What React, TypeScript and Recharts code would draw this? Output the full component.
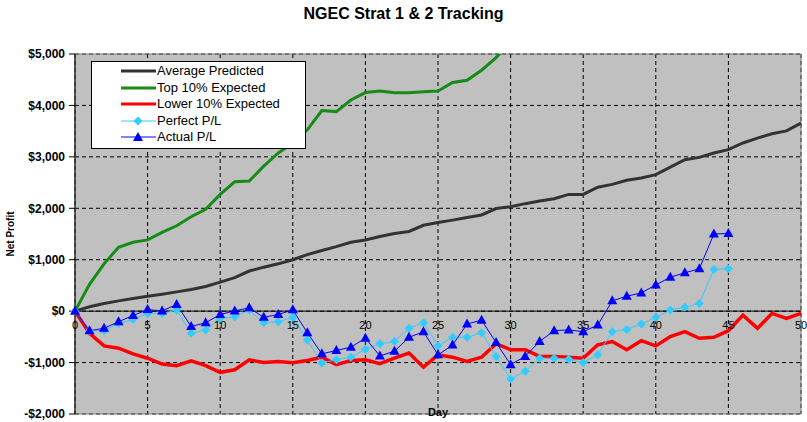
import {
  LineChart, Line, XAxis, YAxis, CartesianGrid,
  ReferenceLine, ReferenceArea, Legend, Label,
} from 'recharts'

// Day index, then one value per day for each series (missing days = no point)
const DAYS = [
  0, 1, 2, 3, 4, 5, 6, 7, 8, 9, 10, 11, 12, 13, 14, 15, 16, 17, 18, 19, 20,
  21, 22, 23, 24, 25, 26, 27, 28, 29, 30, 31, 32, 33, 34, 35, 36, 37, 38, 39, 40,
  41, 42, 43, 44, 45, 46, 47, 48, 49, 50,
]

const AVERAGE_PREDICTED = [
  0, 85, 150, 200, 245, 290, 330, 375, 420, 480, 565, 650, 780, 855, 920, 1000,
  1100, 1180, 1255, 1340, 1385, 1450, 1510, 1550, 1670, 1725, 1770, 1820, 1870, 1995, 2030,
  2090, 2140, 2185, 2270, 2270, 2410, 2465, 2545, 2590, 2655, 2800, 2945, 2990, 3075, 3140,
  3270, 3365, 3450, 3505, 3655,
]

const TOP_10_EXPECTED = [
  0, 520, 920, 1240, 1340, 1385, 1530, 1660, 1835, 1980, 2270, 2515, 2530, 2820, 3075, 3270,
  3525, 3900, 3880, 4105, 4250, 4280, 4245, 4245, 4265, 4280, 4445, 4490, 4685, 4930, 5230,
]

const LOWER_10_EXPECTED = [
  0, -430, -675, -720, -830, -915, -1030, -1060, -965, -1060, -1190, -1140, -945, -1000, -980, -1005,
  -960, -895, -1040, -960, -945, -1020, -915, -815, -1090, -850, -895, -980, -895, -635, -750,
  -750, -880, -880, -895, -915, -655, -590, -750, -575, -675, -495, -400, -527, -510, -380,
  -77, -335, -45, -140, -45,
]

const PERFECT_PL = [
  0, -380, -380, -240, -160, -45, -45, 20, -430, -365, -140, -110, 20, -225, -205, -120,
  -560, -1010, -945, -895, -740, -635, -590, -335, -225, -675, -510, -510, -420, -880, -1320,
  -1170, -915, -915, -935, -1000, -850, -400, -355, -250, -120, 20, 75, 150, 810, 825,
]

const ACTUAL_PL = [
  0, -380, -335, -205, -85, 30, 5, 130, -300, -225, -65, 5, 65, -120, -65, 25,
  -420, -830, -765, -700, -527, -870, -780, -510, -400, -850, -660, -250, -175, -610, -1040,
  -880, -590, -380, -365, -400, -270, 200, 290, 355, 510, 660, 745, 825, 1500, 1510,
]

const X_TICKS = [0, 5, 10, 15, 20, 25, 30, 35, 40, 45, 50]
const Y_TICKS = [-2000, -1000, 0, 1000, 2000, 3000, 4000, 5000]

const W = 807
const H = 422
const MARGIN = { top: 54, right: 6, bottom: 0, left: 0 }
const Y_AXIS_W = 75
const X_AXIS_H = 8
const PLOT_H = H - MARGIN.top - MARGIN.bottom - X_AXIS_H
const Y_MIN = Y_TICKS[0]
const Y_MAX = Y_TICKS[Y_TICKS.length - 1]
const ZERO_Y = MARGIN.top + (PLOT_H * Y_MAX) / (Y_MAX - Y_MIN)

const FONT = 'Arial, "Liberation Sans", sans-serif'

const COLORS = {
  avg: '#333333',
  top: '#168c16',
  low: '#ff0000',
  perfect: '#33ccff',
  actual: '#0000ff',
}

const data = DAYS.map((day, i) => ({
  day,
  avg: AVERAGE_PREDICTED[i],
  top: TOP_10_EXPECTED[i],
  low: LOWER_10_EXPECTED[i],
  perfect: PERFECT_PL[i],
  actual: ACTUAL_PL[i],
}))

const money = (v: number) =>
  (v < 0 ? '-' : '') + '$' + Math.abs(v).toLocaleString('en-US')

function diamondPoints(cx: number, cy: number, r: number) {
  return `${cx},${cy - r} ${cx + r},${cy} ${cx},${cy + r} ${cx - r},${cy}`
}

function trianglePoints(cx: number, cy: number) {
  return `${cx},${cy - 5.5} ${cx + 5},${cy + 3.5} ${cx - 5},${cy + 3.5}`
}

const renderDiamond = (p: any) => {
  if (p.cx == null || p.cy == null || p.value == null) return <g key={p.index} />
  return <polygon key={p.index} points={diamondPoints(p.cx, p.cy, 4.5)} fill={COLORS.perfect} />
}

const renderTriangle = (p: any) => {
  if (p.cx == null || p.cy == null || p.value == null) return <g key={p.index} />
  return <polygon key={p.index} points={trianglePoints(p.cx, p.cy)} fill={COLORS.actual} />
}

// x tick labels sit just under the zero line, like Excel's crossing axis
const DayTick = (p: any) => (
  <text x={p.x} y={ZERO_Y + 18} textAnchor="middle" fontSize={11} fontFamily={FONT} fill="#000">
    {p.payload.value}
  </text>
)

const LEGEND_ROWS = [
  { key: 'avg', name: 'Average Predicted', width: 3, marker: null },
  { key: 'top', name: 'Top 10% Expected', width: 3, marker: null },
  { key: 'low', name: 'Lower 10% Expected', width: 3, marker: null },
  { key: 'perfect', name: 'Perfect P/L', width: 1, marker: 'diamond' },
  { key: 'actual', name: 'Actual P/L', width: 1, marker: 'triangle' },
] as const

function LegendBox() {
  return (
    <div
      style={{
        width: 213, height: 85, border: '1px solid #000', background: '#fff',
        paddingTop: 1, boxSizing: 'content-box', fontFamily: FONT, fontSize: 13,
      }}
    >
      {LEGEND_ROWS.map((r) => {
        const c = COLORS[r.key]
        return (
          <div key={r.key} style={{ height: 16.5, display: 'flex', alignItems: 'center' }}>
            <svg width={35} height={16} style={{ marginLeft: 28.5, marginRight: 1.5 }}>
              <line x1={0} y1={8} x2={35} y2={8} stroke={c} strokeWidth={r.width} />
              {r.marker === 'diamond' && <polygon points={diamondPoints(17, 8, 4.5)} fill={c} />}
              {r.marker === 'triangle' && <polygon points={trianglePoints(17, 8.5)} fill={c} />}
            </svg>
            <span style={{ color: '#000', whiteSpace: 'nowrap', lineHeight: '16px' }}>{r.name}</span>
          </div>
        )
      })}
    </div>
  )
}

export default function App() {
  return (
    <div style={{ position: 'relative', width: W, height: H, fontFamily: FONT, background: '#fff' }}>
      <style>{'body{margin:0}'}</style>
      <div
        style={{
          position: 'absolute', top: 4, left: 0, width: W, textAlign: 'center',
          fontWeight: 'bold', fontSize: 16, lineHeight: '20px', color: '#000', zIndex: 2,
        }}
      >
        NGEC Strat 1 &amp; 2 Tracking
      </div>
      <LineChart width={W} height={H} data={data} margin={MARGIN}>
        <CartesianGrid
          stroke="#000"
          strokeDasharray="4 3"
          fill="#c0c0c0"
          fillOpacity={1}
        />
        <ReferenceArea
          x1={X_TICKS[0]} x2={X_TICKS[X_TICKS.length - 1]}
          y1={Y_MIN} y2={Y_MAX}
          fill="none" stroke="#808080" strokeWidth={1}
        />
        <ReferenceLine y={0} stroke="#000" strokeWidth={1} />
        <XAxis
          dataKey="day"
          type="number"
          domain={[X_TICKS[0], X_TICKS[X_TICKS.length - 1]]}
          ticks={X_TICKS}
          height={X_AXIS_H}
          axisLine={false}
          tickLine={false}
          tick={DayTick}
          interval={0}
        >
          <Label
            content={(p: any) => (
              <text
                x={p.viewBox ? p.viewBox.x + p.viewBox.width / 2 : 438}
                y={MARGIN.top + PLOT_H + 2}
                textAnchor="middle"
                fontSize={11}
                fontWeight="bold"
                fontFamily={FONT}
                fill="#000"
              >
                Day
              </text>
            )}
          />
        </XAxis>
        <YAxis
          width={Y_AXIS_W}
          domain={[Y_MIN, Y_MAX]}
          ticks={Y_TICKS}
          allowDataOverflow
          interval={0}
          tickFormatter={money}
          tick={{ fontSize: 12, fontWeight: 'bold', fontFamily: FONT, fill: '#000' }}
          tickSize={6}
          tickMargin={4}
          axisLine={{ stroke: '#000' }}
          tickLine={{ stroke: '#000' }}
        >
          <Label
            content={() => {
              const cy = MARGIN.top + PLOT_H / 2
              return (
                <text
                  x={14} y={cy}
                  transform={`rotate(-90 14 ${cy})`}
                  textAnchor="middle"
                  fontSize={10}
                  fontWeight="bold"
                  fontFamily={FONT}
                  fill="#000"
                >
                  Net Profit
                </text>
              )
            }}
          />
        </YAxis>
        <Legend
          layout="vertical"
          align="center"
          verticalAlign="middle"
          wrapperStyle={{ top: 61, left: 91, width: 215, height: 87 }}
          content={() => <LegendBox />}
        />
        <Line type="linear" dataKey="avg" name="Average Predicted" stroke={COLORS.avg}
          strokeWidth={3} dot={false} isAnimationActive={false} />
        <Line type="linear" dataKey="top" name="Top 10% Expected" stroke={COLORS.top}
          strokeWidth={3} dot={false} isAnimationActive={false} />
        <Line type="linear" dataKey="low" name="Lower 10% Expected" stroke={COLORS.low}
          strokeWidth={3.5} dot={false} isAnimationActive={false} />
        <Line type="linear" dataKey="perfect" name="Perfect P/L" stroke={COLORS.perfect}
          strokeWidth={1} dot={renderDiamond} activeDot={false} isAnimationActive={false} />
        <Line type="linear" dataKey="actual" name="Actual P/L" stroke={COLORS.actual}
          strokeWidth={1} dot={renderTriangle} activeDot={false} isAnimationActive={false} />
      </LineChart>
    </div>
  )
}
